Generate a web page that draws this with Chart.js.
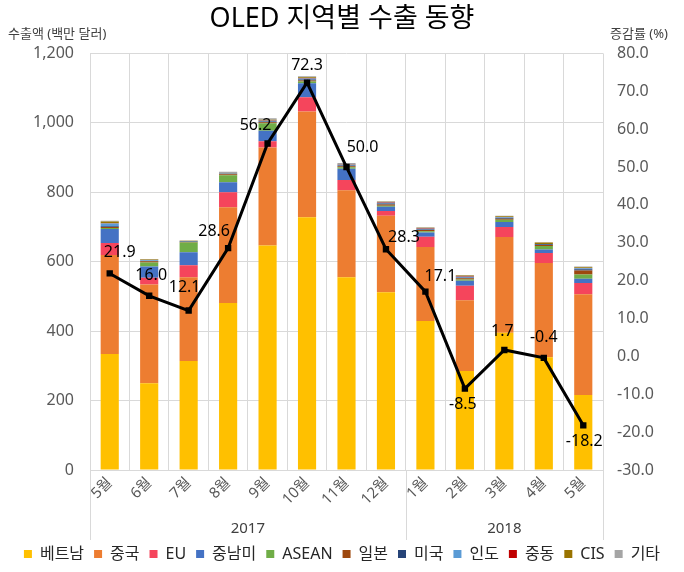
<!DOCTYPE html>
<html>
<head>
<meta charset="utf-8">
<script src="https://cdn.jsdelivr.net/npm/chart.js@4"></script>
<style>
  html, body { margin: 0; padding: 0; background: #fff; }
  #wrap { width: 684px; height: 572px; position: relative; }
</style>
</head>
<body>
<div id="wrap"><canvas id="c" width="684" height="572"></canvas></div>
<script>
// ---- data ----
const months = ['5월','6월','7월','8월','9월','10월','11월','12월','1월','2월','3월','4월','5월'];
const years  = ['2017','2017','2017','2017','2017','2017','2017','2017','2018','2018','2018','2018','2018'];
const vietnam = [334, 250, 314, 481, 647, 728, 555, 512, 429, 285, 395, 325, 216];
const china   = [285, 284, 241, 276, 282, 305, 251, 220, 213, 204, 276, 271, 290];
const eu      = [ 35,  20,  35,  43,  18,  41,  29,  14,  30,  42,  29,  29,  33];
const latam   = [ 40,  32,  37,  29,  30,  40,  33,  12,  12,  14,  14,  10,  12];
const asean   = [  3,  12,  28,  20,  22,   5,   4,   3,   4,   4,   7,  10,  12];
const japan   = [  3,   3,   2,   3,   3,   3,   3,   4,   3,   3,   3,   3,  12];
const usa     = [  2,   1,   1,   1,   2,   3,   2,   3,   2,   2,   2,   2,   3];
const india   = [  8,   2,   1,   1,   2,   3,   2,   2,   2,   3,   2,   1,   3];
const mideast = [  1,   0,   0,   0,   1,   1,   1,   1,   1,   1,   1,   0,   1];
const cis     = [  5,   2,   1,   1,   2,   2,   1,   2,   2,   2,   2,   4,   2];
const other   = [  2,   2,   1,   4,   4,   3,   3,   1,   1,   2,   1,   1,   2];
const growth  = [21.9, 16.0, 12.1, 28.6, 56.2, 72.3, 50.0, 28.3, 17.1, -8.5, 1.7, -0.4, -18.2];
const leftTicks  = [0, 200, 400, 600, 800, 1000, 1200];
const rightTicks = [-30, -20, -10, 0, 10, 20, 30, 40, 50, 60, 70, 80];

// label nudges (style only)
const labelDx = [10, 2, -4, -14, -12, 0, 16, 18, 15, -2, -2, 0, 1];
const labelDy = [-21, -20, -23, -17, -18, -17, -20, -12, -15, 16, -19, -20, 16];

const FONT = '"Noto Sans", "Noto Sans CJK KR", sans-serif';

const barSeries = [
  ['베트남', vietnam, '#FFC000'],
  ['중국', china, '#ED7D31'],
  ['EU', eu, '#F5455C'],
  ['중남미', latam, '#4472C4'],
  ['ASEAN', asean, '#70AD47'],
  ['일본', japan, '#9E480E'],
  ['미국', usa, '#264478'],
  ['인도', india, '#5B9BD5'],
  ['중동', mideast, '#C00000'],
  ['CIS', cis, '#997300'],
  ['기타', other, '#A5A5A5']
];

const datasets = barSeries.map(([label, data, color]) => ({
  type: 'bar', label, data, backgroundColor: color, borderWidth: 0,
  yAxisID: 'y', stack: 's', order: 1,
  categoryPercentage: 1.0, barPercentage: 0.46
}));
datasets.push({
  type: 'line', label: '증감률', data: growth, yAxisID: 'y1', order: 0,
  borderColor: '#000', backgroundColor: '#000', borderWidth: 3,
  pointStyle: 'rect', pointRadius: 4.5, pointBackgroundColor: '#000',
  pointBorderWidth: 0, tension: 0
});

const overlay = {
  id: 'overlay',
  afterDatasetsDraw(chart) {
    const ctx = chart.ctx;
    const meta = chart.getDatasetMeta(chart.data.datasets.length - 1);
    ctx.save();
    ctx.font = '16px ' + FONT;
    ctx.fillStyle = '#000';
    ctx.textAlign = 'center';
    ctx.textBaseline = 'middle';
    meta.data.forEach((pt, i) => {
      ctx.fillText(growth[i].toFixed(1), pt.x + labelDx[i], pt.y + labelDy[i]);
    });
    ctx.restore();
  },
  afterDraw(chart) {
    const ctx = chart.ctx;
    const ca = chart.chartArea;
    const xs = chart.scales.x;
    ctx.save();
    // axis titles
    ctx.font = '13px ' + FONT;
    ctx.fillStyle = '#404040';
    ctx.textBaseline = 'middle';
    ctx.textAlign = 'left';
    ctx.fillText('수출액 (백만 달러)', 8, 34);
    ctx.textAlign = 'center';
    ctx.fillText('증감률 (%)', 639, 34);
    // year groups
    const groups = [];
    years.forEach((y, i) => {
      if (!groups.length || groups[groups.length - 1].label !== y) groups.push({label: y, start: i, end: i});
      else groups[groups.length - 1].end = i;
    });
    const half = (xs.getPixelForValue(1) - xs.getPixelForValue(0)) / 2;
    ctx.strokeStyle = '#D9D9D9';
    ctx.lineWidth = 1;
    ctx.font = '15px ' + FONT;
    ctx.fillStyle = '#404040';
    groups.forEach((g, k) => {
      const x0 = xs.getPixelForValue(g.start) - half;
      const x1 = xs.getPixelForValue(g.end) + half;
      ctx.beginPath();
      ctx.moveTo(Math.round(x0) + 0.5, ca.bottom);
      ctx.lineTo(Math.round(x0) + 0.5, ca.bottom + 70);
      if (k === groups.length - 1) {
        ctx.moveTo(Math.round(x1) + 0.5, ca.bottom);
        ctx.lineTo(Math.round(x1) + 0.5, ca.bottom + 70);
      }
      ctx.stroke();
      ctx.fillText(g.label, (x0 + x1) / 2, ca.bottom + 59);
    });
    ctx.restore();
  }
};

new Chart(document.getElementById('c'), {
  data: { labels: months, datasets },
  options: {
    responsive: false,
    animation: false,
    layout: { padding: 0 },
    plugins: {
      title: {
        display: true, text: 'OLED 지역별 수출 동향', color: '#000',
        font: { size: 27, family: FONT, weight: 'normal' },
        padding: { top: 3, bottom: 18 }
      },
      legend: {
        position: 'bottom',
        labels: {
          boxWidth: 8, boxHeight: 8, padding: 10, color: '#262626',
          font: { size: 16, family: FONT },
          filter: (item) => item.datasetIndex < barSeries.length
        }
      },
      tooltip: { enabled: false }
    },
    scales: {
      x: {
        stacked: true,
        grid: { color: '#D9D9D9', drawTicks: false, offset: true },
        border: { display: false },
        ticks: { color: '#595959', font: { size: 15, family: FONT }, maxRotation: 45, minRotation: 45, padding: 4 },
        afterFit(s) { s.height = 66; }
      },
      y: {
        position: 'left', stacked: true, min: 0, max: 1200,
        afterBuildTicks(s) { s.ticks = leftTicks.map(v => ({ value: v })); },
        grid: { color: '#D9D9D9', drawTicks: false },
        border: { display: false },
        ticks: { color: '#595959', font: { size: 16, family: FONT }, padding: 16,
                 callback: (v) => v.toLocaleString('en-US') },
        afterFit(s) { s.width = 90; }
      },
      y1: {
        position: 'right', min: -30, max: 80,
        afterBuildTicks(s) { s.ticks = rightTicks.map(v => ({ value: v })); },
        grid: { display: false, drawTicks: false },
        border: { display: false },
        ticks: { color: '#595959', font: { size: 16, family: FONT }, padding: 14,
                 callback: (v) => Number(v).toFixed(1) },
        afterFit(s) { s.width = 81; }
      }
    }
  },
  plugins: [overlay]
});
</script>
</body>
</html>
